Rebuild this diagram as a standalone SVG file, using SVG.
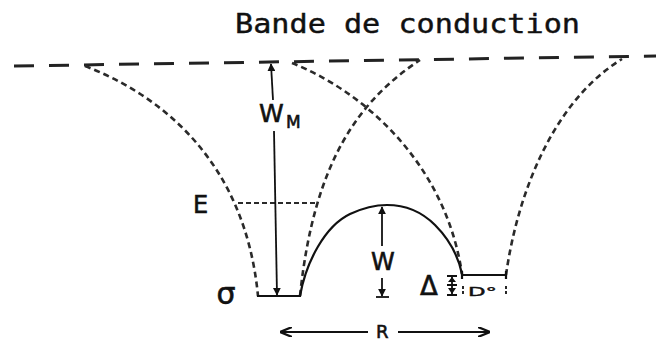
<svg xmlns="http://www.w3.org/2000/svg" width="656" height="344" viewBox="0 0 656 344">
<defs>
<marker id="ahR" viewBox="0 0 12 10" refX="11" refY="5" markerWidth="12" markerHeight="10" orient="auto-start-reverse" markerUnits="userSpaceOnUse">
<path d="M0,0 L12,5 L0,10" fill="none" stroke="#111" stroke-width="2.2"/>
</marker>
<marker id="ahS" viewBox="0 0 10 10" refX="9" refY="5" markerWidth="8" markerHeight="8" orient="auto-start-reverse" markerUnits="userSpaceOnUse">
<path d="M0,0 L10,5 L0,10 Z" fill="#111"/>
</marker>
</defs>
<style>
.band{fill:none;stroke:#222;stroke-width:3;stroke-dasharray:20 15}
.dot{fill:none;stroke:#2a2a2a;stroke-width:2.6;stroke-dasharray:6 4}
.edot{fill:none;stroke:#2a2a2a;stroke-width:2;stroke-dasharray:5 3}
.sol{fill:none;stroke:#111;stroke-width:2.2}
.thin{fill:none;stroke:#111;stroke-width:1.8}
.lbl{font-family:"DejaVu Sans","Liberation Sans",sans-serif;fill:#111;stroke:#111;stroke-width:0.6}
.title{font-family:"DejaVu Sans Mono","Liberation Mono",monospace;fill:#111;stroke:#111;stroke-width:0.4}
</style>
<rect width="656" height="344" fill="#fff"/>
<text class="title" x="235" y="33" font-size="26" textLength="345" lengthAdjust="spacingAndGlyphs">Bande de conduction</text>

<g id="band-edge">
<path class="band" d="M14,66 L656,56"/>
</g>

<g id="well-1">
<path class="dot" d="M85,66 C160,95 245,160 258,296"/>
<path class="dot" d="M300,296 C314,160 360,100 420,60"/>
<path class="sol" d="M257,296 L301,296"/>
<path class="edot" d="M238,203 L315,203"/>
<text class="lbl" x="193" y="213" font-size="24">E</text>
<text class="lbl" x="226" y="293" font-size="30" text-anchor="middle" dominant-baseline="central">σ</text>
</g>

<g id="well-2">
<path class="dot" d="M292,63 C360,90 445,160 462,274"/>
<path class="dot" d="M506,275 C518,190 555,100 622,59"/>
<path class="sol" d="M462,275 L507,275 M462,271 L462,279 M506,271 L506,279"/>
<path class="thin" d="M463,286 L463,296 M506,286 L506,296" stroke-dasharray="3 2"/>
<text class="lbl" x="468" y="296" font-size="12" textLength="29" lengthAdjust="spacingAndGlyphs" style="stroke-width:0.4">D°</text>
</g>

<g id="barrier">
<path class="sol" d="M300,296 C306,262 325,226 350,214 C365,207 375,205 387,205 C405,205 422,212 435,225 C448,238 458,255 462,274"/>
</g>

<g id="connectors">
<path class="thin" d="M273,100 L271,64" marker-end="url(#ahS)"/>
<path class="thin" d="M274,131 L277,295" marker-end="url(#ahS)"/>
<path class="thin" d="M382,246 L382,207" marker-end="url(#ahS)"/>
<path class="thin" d="M382,278 L382,296" marker-end="url(#ahS)"/>
<path class="thin" d="M376,297 L389,297"/>
<path class="thin" d="M368,332 L281,332" marker-end="url(#ahR)"/>
<path class="thin" d="M398,332 L489,332" marker-end="url(#ahR)"/>
<path class="thin" d="M452,276 L452,295 M447,276 L457,276 M447,285 L457,285 M447,295 L457,295"/>
<path d="M448,282 L452,277 L456,282 Z M448,288 L452,294 L456,288 Z" fill="#111"/>
</g>

<g id="labels">
<text class="lbl" x="259" y="122" font-size="25">W</text>
<text class="lbl" x="286" y="128" font-size="17">M</text>
<text class="lbl" x="371" y="270" font-size="24">W</text>
<text class="lbl" x="376" y="338" font-size="18">R</text>
<text class="lbl" x="420" y="295" font-size="26">Δ</text>
</g>
</svg>
